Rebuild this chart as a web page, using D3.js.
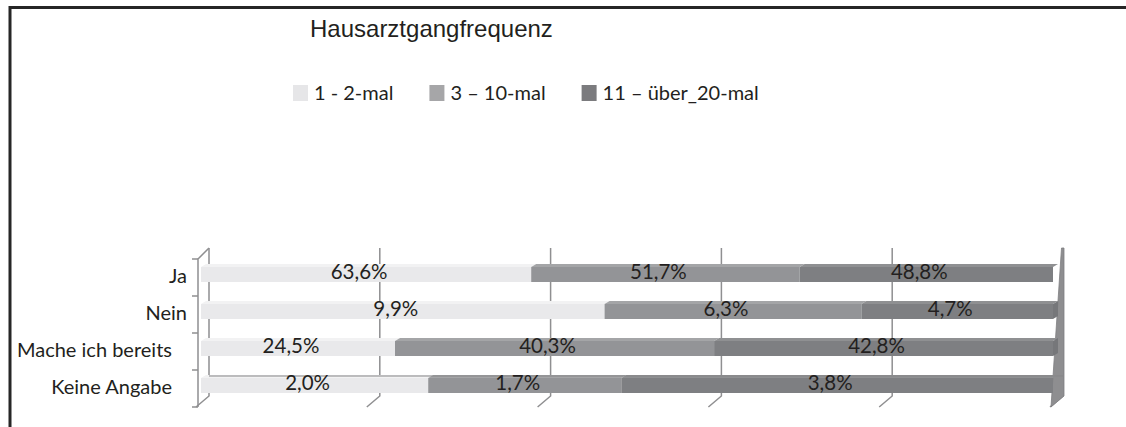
<!DOCTYPE html>
<html>
<head>
<meta charset="utf-8">
<script src="https://cdn.jsdelivr.net/npm/d3@7"></script>
<style>
  body { margin: 0; background: #fff; }
  svg { display: block; }
</style>
</head>
<body>
<svg id="chart" width="1126" height="427"></svg>
<script>
// Daten
var categories = ['Ja', 'Nein', 'Mache ich bereits', 'Keine Angabe'];
var seriesNames = ['1 - 2-mal', '3 – 10-mal', '11 – über_20-mal'];
var mal1bis2 = [63.6, 9.9, 24.5, 2.0];
var mal3bis10 = [51.7, 6.3, 40.3, 1.7];
var mal11bis20 = [48.8, 4.7, 42.8, 3.8];
var axisTicks = [0, 0.2, 0.4, 0.6, 0.8, 1];

var frontColors = ['#e9e9eb', '#939497', '#7e7f82'];
var topColors = ['#f2f2f3', '#a4a5a7', '#8f9092'];
var endColors = ['#dcdcde', '#88898b', '#76777a'];
var legendColors = ['#e6e6e8', '#a6a6a8', '#7b7b7e'];
var textColor = '#231f20';
var gridColor = '#8f8f91';

var table = categories.map(function(c, i) {
	return {cat: c, s0: mal1bis2[i], s1: mal3bis10[i], s2: mal11bis20[i]};
});
var keys = ['s0', 's1', 's2'];

var stacked = d3.stack().keys(keys).offset(d3.stackOffsetExpand)(table);

var svg = d3.select('#chart');

// Rahmen
svg.append('path')
	.attr('d', 'M10,427 V7.5 H1126')
	.attr('fill', 'none')
	.attr('stroke', '#262626')
	.attr('stroke-width', 3);

// Titel
svg.append('text')
	.attr('x', 310)
	.attr('y', 37)
	.attr('font-family', '"Liberation Sans", Arial, sans-serif')
	.attr('font-size', 24)
	.attr('fill', textColor)
	.text('Hausarztgangfrequenz');

// Legende
var legend = svg.append('g').attr('font-family', 'Lato, sans-serif').attr('font-size', 20);
var lx = 293;
seriesNames.forEach(function(name, i) {
	legend.append('rect')
		.attr('x', lx).attr('y', 85)
		.attr('width', 15).attr('height', 16)
		.attr('fill', legendColors[i]);
	var t = legend.append('text')
		.attr('x', lx + 21).attr('y', 100)
		.attr('fill', textColor)
		.text(name);
	lx = lx + 21 + t.node().getComputedTextLength() + 36;
});

// Skalen
var y = d3.scaleBand().domain(categories).range([259, 407]);
var x = d3.scaleLinear().domain([0, 1]).range([201, 1053]);
var xBack = d3.scaleLinear().domain([0, 1]).range([209, 1063]);

var depthX = 5, depthY = 3, barH = 18;
var backTop = 248, backBottom = 396, wallDx = 11, wallDy = 11;

var walls = svg.append('g')
	.attr('fill', 'none')
	.attr('stroke', gridColor)
	.attr('stroke-width', 1.5);

// Gitterlinien auf der Rückwand und Boden-Diagonalen
walls.selectAll('.grid')
	.data(axisTicks)
	.enter()
	.append('path')
		.attr('class', 'grid')
		.attr('d', function(d) {
			var bx = xBack(d);
			return 'M' + bx + ',' + backTop + ' V' + backBottom +
				' L' + (bx - 13) + ',' + (backBottom + wallDy);
		});

// linke Seitenwand
var frontX = xBack(0) - wallDx;
walls.append('path')
	.attr('d', 'M' + xBack(0) + ',' + backTop + ' L' + frontX + ',' + (backTop + wallDy) +
		' V' + (backBottom + wallDy));

walls.selectAll('.tick')
	.data(categories.map(function(c) { return y(c); }).concat([y.range()[1]]))
	.enter()
	.append('line')
		.attr('class', 'tick')
		.attr('x1', frontX - 6).attr('x2', frontX)
		.attr('y1', function(d) { return d; })
		.attr('y2', function(d) { return d; });

// rechte Seitenwand
var rx = xBack(1);
svg.append('path')
	.attr('d', 'M' + (rx - 1.5) + ',' + backTop + ' L' + (rx + 1) + ',' + backTop +
		' V' + backBottom + ' L' + (rx - 12) + ',' + (backBottom + wallDy) + ' Z')
	.attr('fill', '#8e8e90')
	.attr('stroke', '#7f7f81')
	.attr('stroke-width', 0.8);

// Balken
var barTop = function(c) { return y(c) + 5; };

var layers = svg.append('g')
	.selectAll('g')
	.data(stacked)
	.enter()
	.append('g');

layers.each(function(layer, li) {
	var g = d3.select(this);
	layer.forEach(function(d) {
		var c = d.data.cat;
		var x0 = x(d[0]), x1 = x(d[1]);
		var yt = barTop(c) + depthY;
		// Oberseite
		g.append('path')
			.attr('d', 'M' + x0 + ',' + yt + ' L' + (x0 + depthX) + ',' + (yt - depthY) +
				' L' + (x1 + depthX) + ',' + (yt - depthY) + ' L' + x1 + ',' + yt + ' Z')
			.attr('fill', topColors[li]);
		// Vorderseite
		g.append('rect')
			.attr('x', x0)
			.attr('y', yt)
			.attr('width', x1 - x0)
			.attr('height', barH - depthY)
			.attr('fill', frontColors[li]);
		// Stirnseite am Ende
		if (d[1] >= 1) {
			g.append('path')
				.attr('d', 'M' + x1 + ',' + yt + ' L' + (x1 + depthX) + ',' + (yt - depthY) +
					' V' + (yt + barH - 2 * depthY) + ' L' + x1 + ',' + (yt + barH - depthY) + ' Z')
				.attr('fill', endColors[li]);
		}
	});
});

// Linie an der Oberkante der letzten Kategorie
svg.append('line')
	.attr('x1', xBack(0)).attr('x2', xBack(1))
	.attr('y1', barTop(categories[categories.length - 1]) + 1)
	.attr('y2', barTop(categories[categories.length - 1]) + 1)
	.attr('stroke', '#858587')
	.attr('stroke-width', 1);

// Datenbeschriftungen
var values = [mal1bis2, mal3bis10, mal11bis20];
var labels = svg.append('g')
	.attr('font-family', 'Lato, sans-serif')
	.attr('font-size', 20.5)
	.attr('fill', textColor)
	.attr('text-anchor', 'middle');

stacked.forEach(function(layer, li) {
	layer.forEach(function(d, ci) {
		labels.append('text')
			.attr('x', (x(d[0]) + x(d[1])) / 2 - 7)
			.attr('y', barTop(d.data.cat) + barH - 3)
			.text(d3.format('.1f')(values[li][ci]).replace('.', ',') + '%');
	});
});

// Kategorien
svg.append('g')
	.attr('font-family', 'Lato, sans-serif')
	.attr('font-size', 20)
	.attr('fill', textColor)
	.attr('text-anchor', 'end')
	.selectAll('text')
	.data(categories)
	.enter()
	.append('text')
		.attr('x', function(d) { return d.length > 6 ? 172 : 187; })
		.attr('y', function(d) { return barTop(d) + barH + 1; })
		.text(function(d) { return d; });
</script>
</body>
</html>
